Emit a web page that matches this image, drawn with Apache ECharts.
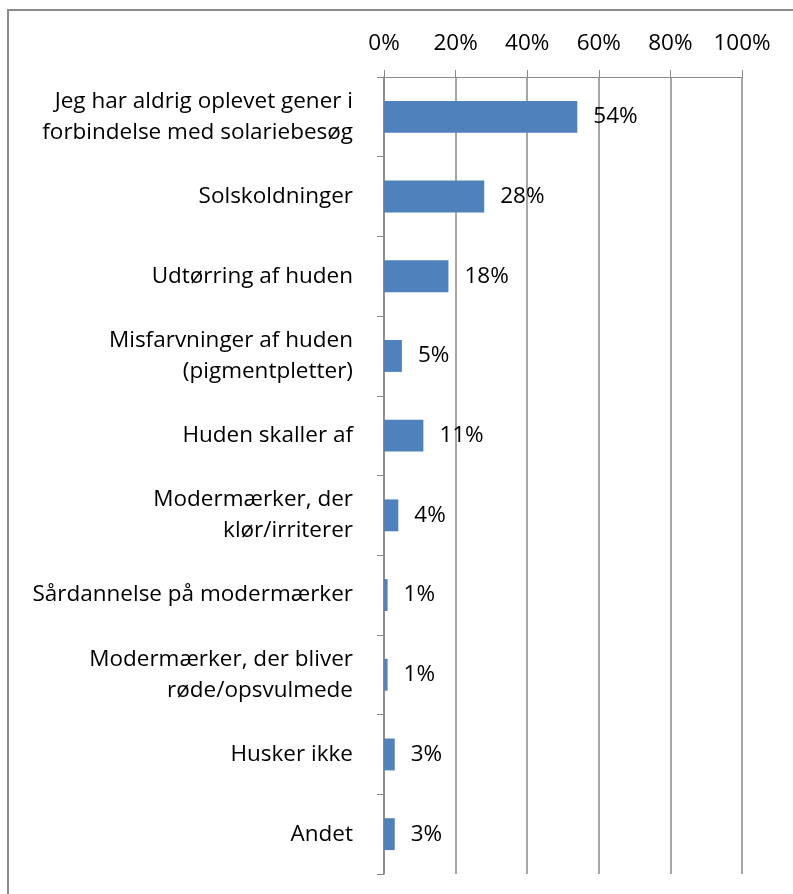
<!DOCTYPE html>
<html>
<head>
<meta charset="utf-8">
<script src="https://cdn.jsdelivr.net/npm/echarts@6/dist/echarts.min.js"></script>
<style>
  html, body { margin: 0; padding: 0; background: #fff; }
  #chart { width: 793px; height: 894px; }
</style>
</head>
<body>
<div id="chart"></div>
<script>
const categories = [
  "Jeg har aldrig oplevet gener i\nforbindelse med solariebesøg",
  "Solskoldninger",
  "Udtørring af huden",
  "Misfarvninger af huden\n(pigmentpletter)",
  "Huden skaller af",
  "Modermærker, der\nklør/irriterer",
  "Sårdannelse på modermærker",
  "Modermærker, der bliver\nrøde/opsvulmede",
  "Husker ikke",
  "Andet"
];
const values = [54, 28, 18, 5, 11, 4, 1, 1, 3, 3];

let myChart = echarts.init(document.getElementById("chart"));
const font = "'Open Sans', sans-serif";
const fs = 22.5;
let option = {
  animation: false,
  graphic: [
    {
      type: "polyline",
      shape: { points: [[8, 894], [8, 10], [793, 10]] },
      style: { stroke: "#8c8c8c", lineWidth: 2, fill: null }
    }
  ],
  grid: { left: 384, top: 77, width: 358, height: 797 },
  xAxis: {
    type: "value",
    position: "top",
    min: 0,
    max: 100,
    interval: 20,
    axisLine: { show: true, lineStyle: { color: "#898989", width: 1 } },
    axisTick: { show: true, length: 7, lineStyle: { color: "#898989" } },
    axisLabel: { formatter: "{value}%", color: "#000", fontSize: fs, fontFamily: font, margin: 22 },
    splitLine: { show: true, lineStyle: { color: "#898989", width: 1.5 } }
  },
  yAxis: {
    type: "category",
    inverse: true,
    data: categories,
    axisLine: { show: true, lineStyle: { color: "#898989", width: 1.5 } },
    axisTick: { show: true, length: 7, lineStyle: { color: "#898989" } },
    axisLabel: { color: "#000", fontSize: fs, fontFamily: font, margin: 31, lineHeight: 31, align: "right" }
  },
  series: [
    {
      type: "bar",
      data: values,
      barWidth: "40%",
      itemStyle: { color: "#4f81bd" },
      label: {
        show: true,
        position: "right",
        distance: 16,
        formatter: "{c}%",
        color: "#000",
        fontSize: fs,
        fontFamily: font
      }
    }
  ]
};
myChart.setOption(option);
</script>
</body>
</html>
